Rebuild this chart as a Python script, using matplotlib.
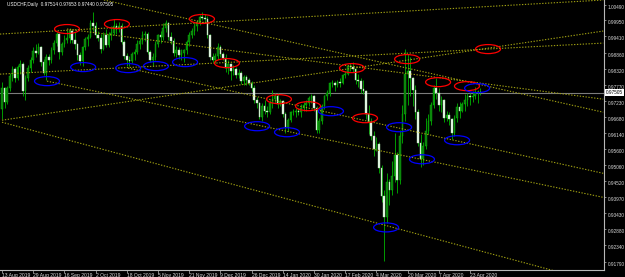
#!/usr/bin/env python3

import matplotlib
matplotlib.use("Agg")
import matplotlib.pyplot as plt
from matplotlib.patches import Ellipse
import numpy as np


SYMBOL = "USDCHF,Daily"
LAST_QUOTE = [0.97514, 0.97653, 0.97440, 0.97505]  # O H L C of the running bar

# daily bars, 13 Aug 2019 .. 29 Apr 2020 (rows of 10)
opens = [
    .9695, .9765, .9718, .9765, .9808, .9831, .9800, .9838, .9848, .9758,
    .9800, .9835, .9860, .9893, .9885, .9905, .9855, .9818, .9870, .9860,
    .9895, .9920, .9950, .9890, .9915, .9930, .9935, .9960, .9930, .9915,
    .9878, .9858, .9905, .9932, .9940, .9985, .9975, .9945, .9935, .9900,
    .9945, .9912, .9945, .9952, .9975, .9965, .9978, .9922, .9875, .9860,
    .9858, .9880, .9890, .9915, .9925, .9945, .9950, .9890, .9860, .9870,
    .9915, .9945, .9940, .9970, .9985, .9940, .9925, .9885, .9895, .9878,
    .9885, .9895, .9922, .9945, .9960, .9975, .9990, 1.0008, 1.0005, 1.0000,
    .9945, .9870, .9862, .9875, .9905, .9880, .9868, .9835, .9848, .9825,
    .9830, .9810, .9818, .9790, .9805, .9795, .9782, .9765, .9725, .9715,
    .9670, .9705, .9690, .9685, .9715, .9728, .9740, .9712, .9722, .9680,
    .9635, .9658, .9685, .9685, .9690, .9685, .9700, .9710, .9715, .9733,
    .9740, .9700, .9625, .9655, .9705, .9738, .9748, .9782, .9785, .9778,
    .9788, .9785, .9810, .9815, .9840, .9838, .9830, .9793, .9790, .9762,
    .9755, .9680, .9650, .9605, .9560, .9578, .9495, .9400, .9330, .9450,
    .9420, .9470, .9540, .9455, .9605, .9680, .9815, .9825, .9800, .9760,
    .9685, .9580, .9525, .9570, .9620, .9655, .9710, .9765, .9750, .9710,
    .9725, .9665, .9675, .9660, .9615, .9665, .9702, .9690, .9712, .9725,
    .9738, .9735, .9738, .9752, .97514,
]
highs = [
    .9787, .9770, .9772, .9818, .9840, .9838, .9845, .9860, .9855, .9810,
    .9845, .9872, .9905, .9915, .9918, .9910, .9865, .9880, .9880, .9905,
    .9930, .9955, .9952, .9922, .9945, .9962, .9970, .9962, .9955, .9920,
    .9890, .9910, .9940, .9950, .9995, 1.0022, .9990, .9960, .9950, .9955,
    .9965, .9955, .9975, 1.0000, .9985, .9990, .9985, .9930, .9885, .9875,
    .9890, .9900, .9928, .9935, .9960, .9960, .9955, .9895, .9885, .9925,
    .9950, .9960, .9985, .9995, .9990, .9955, .9935, .9910, .9905, .9900,
    .9900, .9930, .9955, .9970, .9985, .9995, 1.0015, 1.0022, 1.0018, 1.0010,
    .9950, .9885, .9885, .9920, .9912, .9890, .9880, .9860, .9852, .9845,
    .9838, .9830, .9825, .9812, .9810, .9800, .9790, .9775, .9735, .9720,
    .9715, .9725, .9705, .9725, .9760, .9750, .9748, .9730, .9727, .9685,
    .9665, .9690, .9695, .9700, .9698, .9712, .9718, .9725, .9740, .9745,
    .9742, .9705, .9665, .9712, .9742, .9760, .9788, .9795, .9790, .9795,
    .9800, .9815, .9825, .9845, .9850, .9856, .9835, .9815, .9800, .9795,
    .9760, .9710, .9665, .9620, .9600, .9585, .9505, .9420, .9480, .9460,
    .9520, .9615, .9550, .9625, .9710, .9900, .9880, .9870, .9805, .9775,
    .9695, .9610, .9585, .9665, .9680, .9720, .9775, .9800, .9765, .9740,
    .9730, .9690, .9685, .9665, .9675, .9715, .9720, .9720, .9745, .9750,
    .9750, .9755, .9770, .9760, .97653,
]
lows = [
    .9660, .9700, .9712, .9755, .9790, .9788, .9795, .9815, .9740, .9725,
    .9790, .9820, .9850, .9870, .9880, .9840, .9810, .9795, .9845, .9850,
    .9880, .9910, .9865, .9878, .9905, .9920, .9920, .9920, .9900, .9860,
    .9845, .9840, .9895, .9910, .9935, .9960, .9935, .9925, .9885, .9895,
    .9905, .9905, .9930, .9945, .9950, .9955, .9915, .9865, .9840, .9840,
    .9850, .9860, .9880, .9900, .9915, .9925, .9880, .9855, .9840, .9860,
    .9905, .9920, .9930, .9955, .9930, .9915, .9875, .9870, .9865, .9860,
    .9855, .9880, .9910, .9935, .9945, .9960, .9980, .9995, .9990, .9935,
    .9860, .9855, .9850, .9865, .9870, .9860, .9820, .9815, .9795, .9810,
    .9800, .9800, .9780, .9775, .9775, .9775, .9755, .9715, .9700, .9660,
    .9655, .9680, .9670, .9680, .9700, .9715, .9700, .9705, .9670, .9615,
    .9620, .9650, .9675, .9670, .9675, .9670, .9690, .9690, .9705, .9715,
    .9690, .9615, .9615, .9645, .9695, .9725, .9740, .9770, .9755, .9770,
    .9770, .9780, .9800, .9810, .9825, .9820, .9780, .9770, .9750, .9745,
    .9660, .9610, .9590, .9535, .9555, .9480, .9380, .9180, .9310, .9370,
    .9405, .9450, .9410, .9440, .9580, .9655, .9710, .9740, .9705, .9660,
    .9570, .9500, .9505, .9560, .9610, .9640, .9700, .9730, .9690, .9685,
    .9650, .9655, .9640, .9595, .9605, .9650, .9665, .9685, .9690, .9705,
    .9710, .9720, .9730, .9715, .97440,
]
closes = [
    .9765, .9718, .9765, .9808, .9831, .9800, .9838, .9848, .9758, .9800,
    .9835, .9860, .9893, .9885, .9905, .9855, .9818, .9870, .9860, .9895,
    .9920, .9950, .9890, .9915, .9930, .9935, .9960, .9930, .9915, .9878,
    .9858, .9905, .9932, .9940, .9985, .9975, .9945, .9935, .9900, .9945,
    .9912, .9945, .9952, .9975, .9965, .9978, .9922, .9875, .9860, .9858,
    .9880, .9890, .9915, .9925, .9945, .9950, .9890, .9860, .9870, .9915,
    .9945, .9940, .9970, .9985, .9940, .9925, .9885, .9895, .9878, .9885,
    .9895, .9922, .9945, .9960, .9975, .9990, 1.0008, 1.0005, 1.0000, .9945,
    .9870, .9862, .9875, .9905, .9880, .9868, .9835, .9848, .9825, .9830,
    .9810, .9818, .9790, .9805, .9795, .9782, .9765, .9725, .9715, .9670,
    .9705, .9690, .9685, .9715, .9728, .9740, .9712, .9722, .9680, .9635,
    .9658, .9685, .9685, .9690, .9685, .9700, .9710, .9715, .9733, .9740,
    .9700, .9625, .9655, .9705, .9738, .9748, .9782, .9785, .9778, .9788,
    .9785, .9810, .9815, .9840, .9838, .9830, .9793, .9790, .9762, .9755,
    .9680, .9650, .9605, .9560, .9578, .9495, .9400, .9330, .9450, .9420,
    .9470, .9540, .9455, .9605, .9680, .9815, .9825, .9800, .9760, .9685,
    .9580, .9525, .9570, .9620, .9655, .9710, .9765, .9750, .9710, .9725,
    .9665, .9675, .9660, .9615, .9665, .9702, .9690, .9712, .9725, .9738,
    .9735, .9738, .9752, .97514, .97505,
]

# time scale labels, one every 12 bars
date_labels = ["13 Aug 2019", "29 Aug 2019", "16 Sep 2019", "2 Oct 2019",
               "18 Oct 2019", "5 Nov 2019", "21 Nov 2019", "9 Dec 2019",
               "26 Dec 2019", "14 Jan 2020", "30 Jan 2020", "17 Feb 2020",
               "4 Mar 2020", "20 Mar 2020", "7 Apr 2020", "23 Apr 2020"]

price_levels = [1.00490, 0.99950, 0.99410, 0.98860, 0.98320, 0.97770,
                0.97230, 0.96680, 0.96140, 0.95600, 0.95060, 0.94520,
                0.93970, 0.93430, 0.92880, 0.92340, 0.91790]

# hand drawn objects: trend lines (bar, price) -> (bar, price)
trend_lines = [
    (-0.8, 0.98134, 231.2, 0.99185),
    (-0.8, 0.99490, 231.2, 1.00643),
    (0.0, 0.96575, 231.2, 0.99592),
    (25.0, 0.99660, 231.2, 0.97287),
    (39.2, 1.00643, 231.2, 0.96846),
    (48.5, 0.98338, 231.2, 0.94778),
    (17.3, 0.97897, 231.2, 0.93965),
    (0.0, 0.96507, 211.9, 0.91490),
]

# ellipse markers on swing highs / lows (bar, price)
highs_marked = [(25.0, 0.99660), (44.2, 0.99829), (76.9, 1.00000),
                (86.5, 0.98507), (106.5, 0.97287), (117.7, 0.97050),
                (134.6, 0.98338), (139.6, 0.96643), (155.8, 0.98643),
                (167.7, 0.97863), (178.8, 0.97728), (186.9, 0.98982)]
lows_marked = [(17.3, 0.97897), (31.2, 0.98372), (48.5, 0.98338),
               (59.2, 0.98406), (70.4, 0.98541), (98.1, 0.96372),
               (109.6, 0.96168), (126.5, 0.96880), (147.7, 0.92947),
               (152.7, 0.96338), (161.5, 0.95253), (175.0, 0.95897),
               (182.7, 0.97660)]


def draw_candles(ax):
    o = np.array(opens)
    h = np.array(highs)
    l = np.array(lows)
    c = np.array(closes)
    idx = np.arange(len(c))
    bull = c >= o

    ax.vlines(idx, l, h, color="#00b400", linewidth=0.6, zorder=2)
    bottom = np.minimum(o, c)
    height = np.maximum(np.abs(c - o), 0.00008)
    face = np.where(bull, "#0f7a0f", "#eef8ee")
    edge = np.where(bull, "#00c000", "#a8e0a8")
    ax.bar(idx, height, bottom=bottom, width=0.62, color=face,
           edgecolor=edge, linewidth=0.3, zorder=3)


def draw_objects(ax):
    for x0, p0, x1, p1 in trend_lines:
        ax.plot([x0, x1], [p0, p1], linestyle=(0, (1.2, 1.4)),
                linewidth=0.8, color="#a0a012", zorder=4)

    ax.axhline(LAST_QUOTE[3], color="#7c7c7c", linewidth=0.8, zorder=1)

    for bar, price in highs_marked:
        ax.add_patch(Ellipse((bar, price), 9.6, 0.00305, fill=False,
                             edgecolor="#ff0000", linewidth=0.9, zorder=5))
    for bar, price in lows_marked:
        ax.add_patch(Ellipse((bar, price), 9.6, 0.00305, fill=False,
                             edgecolor="#0000ff", linewidth=0.9, zorder=5))


def main():
    fig = plt.figure(figsize=(6.25, 2.77), dpi=100, facecolor="black")
    ax = fig.add_axes([0.0, 7.5 / 277, 604 / 625, 1 - 7.5 / 277])
    ax.set_facecolor("black")

    draw_candles(ax)
    draw_objects(ax)

    ax.set_xlim(-0.77, 231.5)
    ax.set_ylim(0.91523, 1.00643)

    for side in ("left", "top"):
        ax.spines[side].set_visible(False)
    for side in ("bottom", "right"):
        ax.spines[side].set_color("#b8b8b8")
        ax.spines[side].set_linewidth(0.8)

    ax.set_xticks(np.arange(len(date_labels)) * 12)
    ax.set_xticklabels(date_labels, ha="left", fontsize=3.6,
                       color="#d8d8d8", family="Liberation Sans")
    ax.tick_params(axis="x", direction="out", length=2, width=0.5,
                   color="#b8b8b8", pad=0.8)

    ax.yaxis.tick_right()
    ax.set_yticks(price_levels)
    ax.set_yticklabels(["%.5f" % p for p in price_levels], fontsize=3.4,
                       color="#d8d8d8", family="Liberation Sans", va="top")
    ax.tick_params(axis="y", direction="out", length=1.5, width=0.5,
                   color="#b8b8b8", pad=1.0)

    ax.text(1.003, LAST_QUOTE[3], "%.5f" % LAST_QUOTE[3],
            transform=ax.get_yaxis_transform(), ha="left", va="center",
            fontsize=3.4, color="black", family="Liberation Sans",
            bbox=dict(boxstyle="square,pad=0.2", fc="white", ec="none"),
            clip_on=False, zorder=10)

    title = "%s  %.5f %.5f %.5f %.5f" % (SYMBOL, *LAST_QUOTE)
    ax.text(0.012, 0.993, title, transform=ax.transAxes, ha="left", va="top",
            fontsize=3.4, color="white", family="Liberation Sans", zorder=10)

    fig.savefig("out.png", dpi=100, facecolor="black")
    return 0


if __name__ == "__main__":
    main()
